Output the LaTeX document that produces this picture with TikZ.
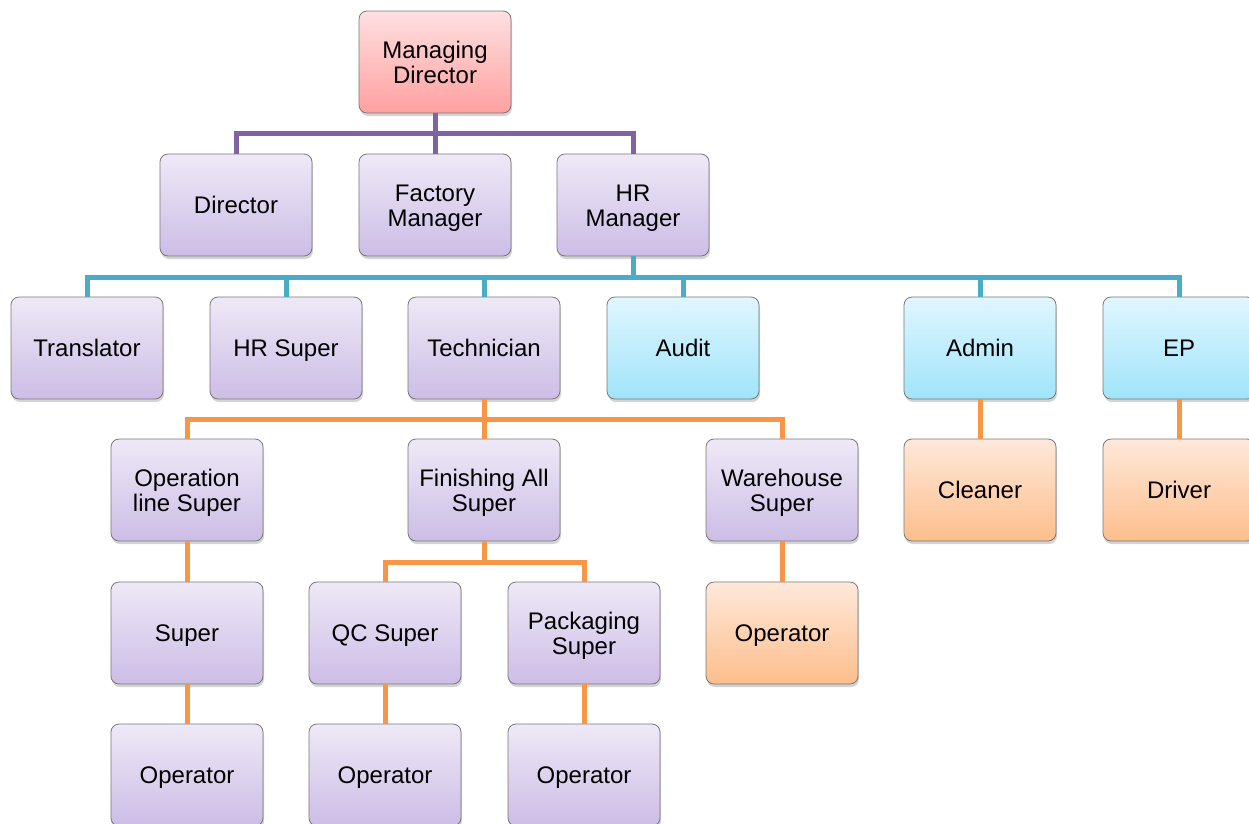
\documentclass[tikz,border=0pt]{standalone}
\usepackage{fontspec}
\setmainfont{Liberation Sans}
\usetikzlibrary{shadows}

\definecolor{linePurple}{RGB}{128,100,162}
\definecolor{lineTeal}{RGB}{75,172,198}
\definecolor{lineOrange}{RGB}{247,150,70}
\definecolor{boxBorder}{RGB}{120,120,120}

\tikzset{
  box/.style={
    rectangle, rounded corners=8pt, draw=boxBorder, line width=0.8pt,
    minimum width=152pt, minimum height=102pt, align=center,
    font=\fontsize{24}{25}\selectfont, text=black, text depth=6pt,
    execute at begin node={\rule{0pt}{23pt}},
    drop shadow={opacity=0.35, shadow xshift=1pt, shadow yshift=-3pt}
  },
  twoline/.style={execute at begin node={\rule{0pt}{48.5pt}}},
  lavender/.style={box, top color={rgb,255:red,238;green,233;blue,247}, bottom color={rgb,255:red,204;green,189;blue,230}},
  rose/.style={box, top color={rgb,255:red,255;green,224;blue,224}, bottom color={rgb,255:red,255;green,160;blue,160}},
  sky/.style={box, top color={rgb,255:red,224;green,246;blue,255}, bottom color={rgb,255:red,160;green,228;blue,250}},
  peach/.style={box, top color={rgb,255:red,255;green,232;blue,218}, bottom color={rgb,255:red,252;green,190;blue,140}},
  link/.style={line width=5pt},
}

\begin{document}
\begin{tikzpicture}[x=1pt,y=-1pt]
\useasboundingbox (0,0) rectangle (1249,823);

% bus levels
\coordinate (busA) at (0,133);
\coordinate (busB) at (0,277);
\coordinate (busC) at (0,419);
\coordinate (busD) at (0,562);

% nodes
\node[rose, twoline] (md) at (435,62) {Managing\\Director};

\node[lavender] (dir) at (236,205) {Director};
\node[lavender, twoline] (fm) at (435,205) {Factory\\Manager};
\node[lavender, twoline] (hrm) at (633,205) {HR\\Manager};

\node[lavender] (tr) at (87,348) {Translator};
\node[lavender] (hrs) at (286,348) {HR Super};
\node[lavender] (tech) at (484,348) {Technician};
\node[sky] (aud) at (683,348) {Audit};
\node[sky] (adm) at (980,348) {Admin};
\node[sky] (ep) at (1179,348) {EP};

\node[lavender, twoline] (ols) at (187,490) {Operation\\line Super};
\node[lavender, twoline] (fas) at (484,490) {Finishing All\\Super};
\node[lavender, twoline] (ws) at (782,490) {Warehouse\\Super};
\node[peach] (cl) at (980,490) {Cleaner};
\node[peach] (drv) at (1179,490) {Driver};

\node[lavender] (sup) at (187,633) {Super};
\node[lavender] (qc) at (385,633) {QC Super};
\node[lavender, twoline] (pk) at (584,633) {Packaging\\Super};
\node[peach] (op4) at (782,633) {Operator};

\node[lavender] (op1) at (187,775) {Operator};
\node[lavender] (op2) at (385,775) {Operator};
\node[lavender] (op3) at (584,775) {Operator};

% connectors from each parent down to its children
\draw[link, draw=linePurple] (md.south) -- (md.south |- busA);
\foreach \c in {dir,fm,hrm}
  \draw[link, draw=linePurple] (md.south |- busA) -| (\c.north);

\draw[link, draw=lineTeal] (hrm.south) -- (hrm.south |- busB);
\foreach \c in {tr,hrs,tech,aud,adm,ep}
  \draw[link, draw=lineTeal] (hrm.south |- busB) -| (\c.north);

\draw[link, draw=lineOrange] (tech.south) -- (tech.south |- busC);
\foreach \c in {ols,fas,ws}
  \draw[link, draw=lineOrange] (tech.south |- busC) -| (\c.north);

\draw[link, draw=lineOrange] (fas.south) -- (fas.south |- busD);
\foreach \c in {qc,pk}
  \draw[link, draw=lineOrange] (fas.south |- busD) -| (\c.north);

\draw[link, draw=lineOrange] (adm.south) -- (cl.north);
\draw[link, draw=lineOrange] (ep.south) -- (drv.north);
\draw[link, draw=lineOrange] (ws.south) -- (op4.north);
\draw[link, draw=lineOrange] (ols.south) -- (sup.north);
\draw[link, draw=lineOrange] (sup.south) -- (op1.north);
\draw[link, draw=lineOrange] (qc.south) -- (op2.north);
\draw[link, draw=lineOrange] (pk.south) -- (op3.north);
\end{tikzpicture}
\end{document}
